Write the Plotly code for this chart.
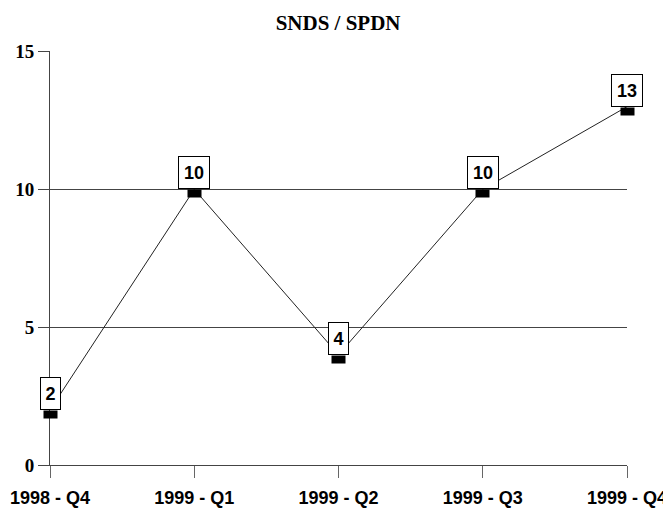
import plotly.graph_objects as go

categories = ["1998 - Q4", "1999 - Q1", "1999 - Q2", "1999 - Q3", "1999 - Q4"]
values = [2, 10, 4, 10, 13]
y_ticks = [0, 5, 10, 15]

x_idx = list(range(len(categories)))

fig = go.Figure()
fig.add_trace(go.Scatter(
    x=x_idx, y=values, mode="lines",
    line=dict(color="#222222", width=1),
    hoverinfo="skip", showlegend=False,
))

annotations = []
for xi, v in zip(x_idx, values):
    # black rectangle marker just below the value
    annotations.append(dict(
        x=xi, y=v, xref="x", yref="y", text=" ", showarrow=False,
        bgcolor="black", width=13, height=7, yanchor="top", yshift=0,
        font=dict(size=4), borderpad=0,
    ))
    # boxed label above
    txt = str(v)
    annotations.append(dict(
        x=xi, y=v, xref="x", yref="y", text=f"<b>{txt}</b>", showarrow=False,
        bgcolor="white", bordercolor="black", borderwidth=1, borderpad=1,
        width=11 * len(txt) + 6, height=29,
        yanchor="bottom", yshift=0,
        font=dict(family="Arial, Liberation Sans", size=18, color="black"),
    ))

W, H = 663, 502  # page body adds 8px offset
fig.update_layout(
    width=W, height=H,
    margin=dict(l=42, r=44, t=43, b=45),
    paper_bgcolor="white", plot_bgcolor="white",
    title=dict(text="<b>SNDS / SPDN</b>", x=(339 - 8) / W, xref="paper", xanchor="center",
               y=1 - 15 / H, yanchor="middle",
               font=dict(family="Times New Roman, Liberation Serif", size=21, color="black")),
    showlegend=False,
    annotations=annotations,
    xaxis=dict(
        range=[0, 4], tickmode="array", tickvals=x_idx, ticktext=[f"<b>{c}</b>" for c in categories],
        showgrid=False, zeroline=False, showline=True, linecolor="#444444", linewidth=1,
        ticks="outside", ticklen=12, tickcolor="#666666", automargin=False,
        ticklabelstandoff=4,
        tickfont=dict(family="Arial, Liberation Sans", size=18, color="black"),
    ),
    yaxis=dict(
        range=[0, 15.02], tickmode="array", tickvals=y_ticks, ticktext=[f"<b>{t}</b>" for t in y_ticks],
        showgrid=True, gridcolor="#444444", gridwidth=1, zeroline=False,
        showline=True, linecolor="#444444", linewidth=1,
        ticks="outside", ticklen=11, tickcolor="#444444", automargin=False,
        tickfont=dict(family="Times New Roman, Liberation Serif", size=19, color="black"),
    ),
)

fig.write_html("out.html")
